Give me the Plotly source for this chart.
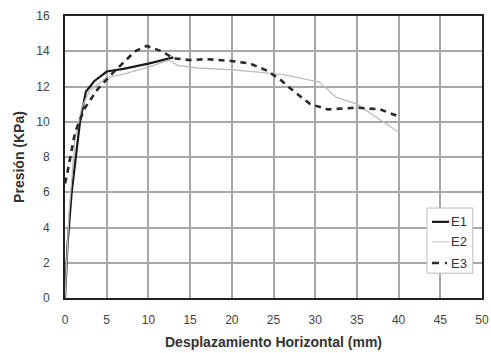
import plotly.graph_objects as go

e1_x = [0, 0.3, 0.8, 1.3, 1.8, 2.5, 3.5, 5, 7, 10, 13]
e1_y = [0, 3, 6, 8, 10, 11.7, 12.3, 12.85, 13.0, 13.3, 13.65]

e2_x = [0, 0.5, 1.2, 2, 3, 5, 7, 10, 12.5, 13.5, 16, 20, 23.5, 26.5, 30.5, 32.5, 35, 40]
e2_y = [0, 5, 9, 10.8, 11.8, 12.5, 12.7, 13.1, 13.5, 13.2, 13.05, 12.95, 12.8, 12.65, 12.25, 11.4, 11.0, 9.4]

e3_x = [0, 0.2, 1.2, 2.4, 4, 5.8, 8.4, 9.8, 11.6, 13, 15, 17, 20, 22.2, 24.2, 25.8, 27, 29.4, 31.5, 35, 37.8, 40]
e3_y = [6.5, 6.9, 9.4, 10.8, 11.9, 12.8, 14.0, 14.3, 14.0, 13.6, 13.5, 13.55, 13.45, 13.3, 12.9, 12.4, 11.9, 11.0, 10.7, 10.8, 10.7, 10.3]

x_ticks = [0, 5, 10, 15, 20, 25, 30, 35, 40, 45, 50]
y_ticks = [0, 2, 4, 6, 8, 10, 12, 14, 16]
series_names = ["E1", "E2", "E3"]

styles = [
    dict(color="#1a1a1a", width=2.2),
    dict(color="#bdbdbd", width=1.3),
    dict(color="#2a2a2a", width=2.6, dash="6px,5px"),
]
legend_styles = [
    dict(color="#1a1a1a", width=2.2),
    dict(color="#c8c8c8", width=1),
    dict(color="#2a2a2a", width=2.4, dash="7px,6px,2px,20px"),
]

fig = go.Figure()
for xs, ys, nm, st in zip([e1_x, e2_x, e3_x], [e1_y, e2_y, e3_y], series_names, styles):
    fig.add_trace(go.Scatter(x=xs, y=ys, mode="lines", name=nm, line=st, showlegend=False))

# manual compact legend
fig.add_shape(type="rect", xref="paper", yref="paper", x0=0.868, x1=0.978, y0=0.088, y1=0.319,
              line=dict(color="#bbbbbb", width=1), fillcolor="white", layer="above")
for nm, st, yy in zip(series_names, legend_styles, [0.270, 0.199, 0.124]):
    fig.add_shape(type="line", xref="paper", yref="paper", x0=0.880, x1=0.921, y0=yy, y1=yy,
                  line=st, layer="above")
    fig.add_annotation(xref="paper", yref="paper", x=0.921, y=yy, text=nm, showarrow=False,
                       xanchor="left", yanchor="middle",
                       font=dict(size=13, color="#333333"))

fig.update_layout(
    width=491, height=353,
    margin=dict(l=65, r=9, t=16, b=55),
    paper_bgcolor="white", plot_bgcolor="white",
    font=dict(family="Liberation Sans, Arial, sans-serif", color="#444444", size=12),
    showlegend=False,
    xaxis=dict(range=[0, 50], tickvals=x_ticks, ticktext=[str(v) for v in x_ticks],
               showgrid=True, gridcolor="#a8a8a8", gridwidth=1.5,
               showline=True, linecolor="#222222", linewidth=2, mirror=True,
               zeroline=False, ticks="", ticklabelstandoff=10, automargin=False,
               title=dict(text="<b>Desplazamiento Horizontal (mm)</b>",
                          font=dict(size=14, color="#333333"), standoff=11)),
    yaxis=dict(range=[0, 16], tickvals=y_ticks, ticktext=[str(v) for v in y_ticks],
               showgrid=True, gridcolor="#a8a8a8", gridwidth=1.5,
               showline=True, linecolor="#222222", linewidth=2, mirror=True,
               zeroline=False, ticks="", ticklabelstandoff=11, automargin=False,
               title=dict(text="<b>Presión (KPa)</b>",
                          font=dict(size=14, color="#333333"), standoff=8)),
)

fig.write_html("out.html", config={"displayModeBar": False},
               post_script="document.body.style.margin='0';document.body.style.overflow='hidden';")
